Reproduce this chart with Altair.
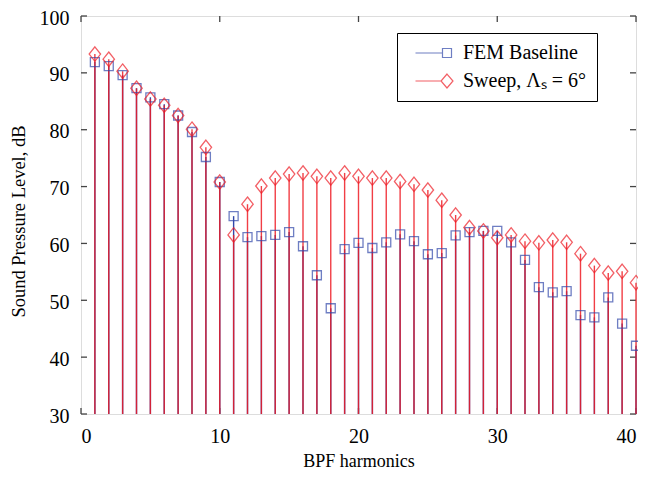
import altair as alt
import pandas as pd

harmonics = list(range(1, 41))
fem = [91.9, 91.2, 89.6, 87.3, 85.7, 84.5, 82.5, 79.6, 75.2, 70.8,
       64.8, 61.1, 61.3, 61.5, 62.0, 59.5, 54.4, 48.6, 59.0, 60.1,
       59.2, 60.2, 61.6, 60.4, 58.1, 58.3, 61.4, 62.0, 62.2, 62.2,
       60.2, 57.1, 52.3, 51.4, 51.6, 47.4, 47.0, 50.5, 45.9, 42.0]
sweep = [93.3, 92.4, 90.3, 87.3, 85.4, 84.3, 82.5, 80.1, 76.9, 70.8,
         61.5, 66.9, 70.1, 71.5, 72.2, 72.4, 71.8, 71.5, 72.4, 71.8,
         71.5, 71.5, 70.9, 70.4, 69.4, 67.6, 65.0, 62.8, 62.2, 61.0,
         61.5, 60.4, 60.1, 60.6, 60.2, 58.2, 56.1, 54.8, 55.1, 53.1]
series_names = ["FEM Baseline", "Sweep, \u039b\u209b = 6\u00b0"]
x_ticks = [0, 10, 20, 30, 40]
y_ticks = [30, 40, 50, 60, 70, 80, 90, 100]

BLUE = "#3248aa"
RED = "#ee1c25"
W, H = 555, 398
FONT = "Liberation Serif"

df = pd.DataFrame({"h": harmonics, "fem": fem, "sweep": sweep})
leg_df = pd.DataFrame({"series": series_names})
xt = pd.DataFrame({"t": x_ticks})
yt = pd.DataFrame({"t": y_ticks})

xs = alt.Scale(domain=[0, 40], nice=False)
ys = alt.Scale(domain=[30, 100], nice=False)
xax = alt.Axis(values=x_ticks, ticks=False, domain=False, grid=False,
               labelFont=FONT, labelFontSize=20, labelColor="black",
               labelPadding=12, title="BPF harmonics", titleFont=FONT,
               titleFontSize=18, titleFontWeight="normal", titleColor="black",
               titlePadding=6)
yax = alt.Axis(values=y_ticks, ticks=False, domain=False, grid=False,
               labelFont=FONT, labelFontSize=20, labelColor="black",
               labelPadding=12, labelOffset=2, title="Sound Pressure Level, dB",
               titleFont=FONT, titleFontSize=18.5, titleFontWeight="normal",
               titleColor="black", titlePadding=11, titleY=205)

base = alt.Chart(df)
X = alt.X("h:Q", scale=xs, axis=xax)

stem_fem = base.mark_rule(color=BLUE, strokeWidth=1.4).encode(
    x=X, y=alt.Y("fem:Q", scale=ys, axis=yax), y2=alt.datum(30))
stem_sw = base.mark_rule(color=RED, strokeWidth=1.4, opacity=0.85).encode(
    x=X, y=alt.Y("sweep:Q", scale=ys, axis=yax), y2=alt.datum(30))
pts_fem = base.mark_point(shape="square", size=81, filled=False, color=BLUE,
                          strokeWidth=1.3).encode(x=X, y=alt.Y("fem:Q", scale=ys, axis=yax))
DIA = "M0,-1.2L0.95,0L0,1.2L-0.95,0Z"
pts_sw = base.mark_point(shape=DIA, size=144, filled=False, color=RED,
                         strokeWidth=1.3).encode(x=X, y=alt.Y("sweep:Q", scale=ys, axis=yax))

LSQ = "M-7,0H-1M-1,-1H1V1H-1Z"
LDI = "M-7,0H-1.33M0,-1.55L1.33,0L0,1.55L-1.33,0Z"
leg = alt.Legend(title=None, orient="none", legendX=316, legendY=17,
                 strokeColor="black", fillColor="white", padding=10,
                 symbolSize=81, symbolStrokeWidth=1.2, symbolOffset=30,
                 labelOffset=6, labelFont=FONT, labelFontSize=20,
                 labelColor="black", rowPadding=8, labelLimit=300)
legend_layer = alt.Chart(leg_df).mark_point(filled=False, strokeWidth=1.2).encode(
    color=alt.Color("series:N", scale=alt.Scale(domain=series_names, range=[BLUE, RED]), legend=leg),
    shape=alt.Shape("series:N", scale=alt.Scale(domain=series_names, range=[LSQ, LDI]), legend=leg),
).transform_filter("false")

tick_color = "#444"
tb = alt.Chart(xt).mark_rule(color=tick_color, strokeWidth=1.3).encode(
    x=alt.X("t:Q", scale=xs, axis=xax), y=alt.value(H), y2=alt.value(H - 6))
tt = alt.Chart(xt).mark_rule(color=tick_color, strokeWidth=1.3).encode(
    x=alt.X("t:Q", scale=xs, axis=xax), y=alt.value(0), y2=alt.value(6))
tl = alt.Chart(yt).mark_rule(color=tick_color, strokeWidth=1.3).encode(
    y=alt.Y("t:Q", scale=ys, axis=yax), x=alt.value(0), x2=alt.value(6))
tr = alt.Chart(yt).mark_rule(color=tick_color, strokeWidth=1.3).encode(
    y=alt.Y("t:Q", scale=ys, axis=yax), x=alt.value(W), x2=alt.value(W - 6))

chart = alt.layer(tb, tt, tl, tr, stem_fem, stem_sw, pts_fem, pts_sw, legend_layer).properties(
    width=W, height=H,
    padding={"left": 73, "top": 8, "right": 2, "bottom": 56},
    autosize=alt.AutoSizeParams(type="none"),
)
chart = chart.configure_view(stroke="#444", strokeWidth=1.6).configure(background="white")

chart.save("out.html", embed_options={"renderer": "svg", "actions": False})
